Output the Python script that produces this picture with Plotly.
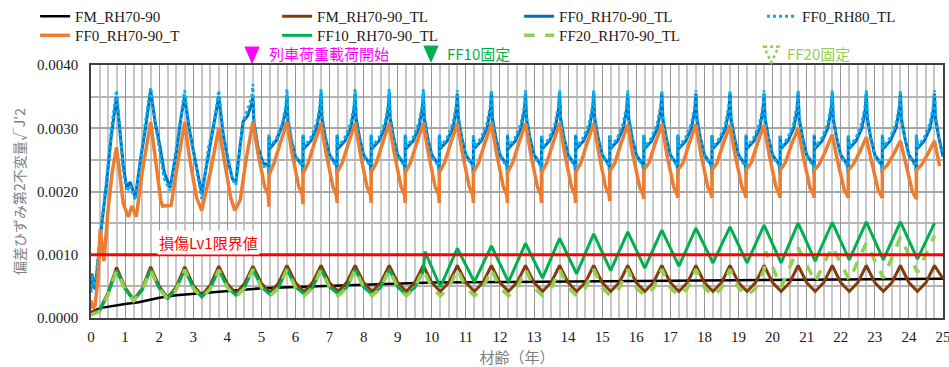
import plotly.graph_objects as go

# ---------------- data ----------------
age_q = [0, 0.25, 0.5, 0.75, 1, 1.25, 1.5, 1.75, 2, 2.25, 2.5, 2.75, 3, 3.25, 3.5, 3.75,
         4, 4.25, 4.5, 4.75, 5, 5.25, 5.5, 5.75, 6, 6.25, 6.5, 6.75, 7, 7.25, 7.5, 7.75,
         8, 8.25, 8.5, 8.75, 9, 9.25, 9.5, 9.75, 10, 10.25, 10.5, 10.75, 11, 11.25, 11.5, 11.75,
         12, 12.25, 12.5, 12.75, 13, 13.25, 13.5, 13.75, 14, 14.25, 14.5, 14.75, 15, 15.25, 15.5, 15.75,
         16, 16.25, 16.5, 16.75, 17, 17.25, 17.5, 17.75, 18, 18.25, 18.5, 18.75, 19, 19.25, 19.5, 19.75,
         20, 20.25, 20.5, 20.75, 21, 21.25, 21.5, 21.75, 22, 22.25, 22.5, 22.75, 23, 23.25, 23.5, 23.75,
         24, 24.25, 24.5, 24.75, 25]

# FM_RH70-90 (black)
fm_x = [0, 0.1, 0.3, 0.6, 1.0, 1.4, 2.0, 2.5, 3.0, 4.0, 5.0, 6.0, 7.0, 8.0, 9.0, 10, 12, 14, 16, 18, 20, 22, 25]
fm_y = [0.00008, 0.00012, 0.00016, 0.00019, 0.00022, 0.00025, 0.00032, 0.00036, 0.00038, 0.00043,
        0.00047, 0.00049, 0.00051, 0.00053, 0.00055, 0.00056, 0.00057, 0.00058, 0.00059, 0.00060,
        0.00060, 0.00061, 0.00062]

# FM_RH70-90_TL (brown) on quarter-year grid, one row per year
fm_tl_rows = [
    [0.00010, 0.00012, 0.00040, 0.00080],
    [0.00048, 0.00029, 0.00046, 0.00081],
    [0.00050, 0.00032, 0.00049, 0.00081],
    [0.00052, 0.00036, 0.00052, 0.00082],
    [0.00054, 0.00039, 0.00054, 0.00082],
    [0.00055, 0.00040, 0.00055, 0.00083],
    [0.00056, 0.00041, 0.00056, 0.00083],
    [0.00056, 0.00042, 0.00056, 0.00083],
    [0.00056, 0.00042, 0.00056, 0.00083],
    [0.00056, 0.00042, 0.00056, 0.00083],
    [0.00056, 0.00042, 0.00056, 0.00083],
    [0.00056, 0.00042, 0.00056, 0.00083],
    [0.00056, 0.00042, 0.00056, 0.00083],
    [0.00056, 0.00042, 0.00056, 0.00083],
    [0.00056, 0.00042, 0.00056, 0.00083],
    [0.00056, 0.00042, 0.00056, 0.00083],
    [0.00056, 0.00042, 0.00056, 0.00083],
    [0.00056, 0.00042, 0.00056, 0.00083],
    [0.00056, 0.00042, 0.00056, 0.00083],
    [0.00056, 0.00042, 0.00056, 0.00083],
    [0.00056, 0.00042, 0.00056, 0.00083],
    [0.00056, 0.00042, 0.00056, 0.00083],
    [0.00056, 0.00042, 0.00056, 0.00083],
    [0.00056, 0.00042, 0.00056, 0.00083],
    [0.00056, 0.00042, 0.00056, 0.00083],
]
fm_tl_end = [0.00062]

# FF0_RH70-90_TL (blue) and FF0_RH80_TL (dotted light blue)
ff0_early_x = [0, 0.03, 0.12, 0.2, 0.3, 0.45, 0.6, 0.75, 0.85, 0.95, 1.05, 1.15, 1.3, 1.45, 1.6, 1.75,
               1.88, 2.03, 2.15, 2.32, 2.5, 2.65, 2.75, 2.88, 3.02, 3.15, 3.25, 3.45, 3.62, 3.75,
               3.88, 4.02, 4.15, 4.25, 4.35, 4.46, 4.6, 4.72, 4.75, 4.78, 4.9, 5.05]
ff0_tl_early_y = [0.00045, 0.0007, 0.00045, 0.0009, 0.0014, 0.0021, 0.0029, 0.0035, 0.0029, 0.0024,
                  0.00205, 0.00215, 0.0019, 0.0025, 0.003, 0.0036, 0.0031, 0.0027, 0.0023, 0.00206,
                  0.0026, 0.0032, 0.0035, 0.003, 0.0026, 0.0022, 0.00196, 0.0026, 0.0031, 0.0035,
                  0.0029, 0.0025, 0.0022, 0.00215, 0.0026, 0.0031, 0.0032, 0.0034, 0.0035, 0.0031,
                  0.0027, 0.00245]
ff0_rh80_early_y = [0.0004, 0.00068, 0.0005, 0.00095, 0.00145, 0.00215, 0.003, 0.0036, 0.0029, 0.0023,
                    0.002, 0.0021, 0.00186, 0.0025, 0.0031, 0.00365, 0.0031, 0.0026, 0.0022, 0.00202,
                    0.0027, 0.0032, 0.0036, 0.003, 0.0026, 0.0022, 0.00188, 0.0027, 0.0031, 0.0036,
                    0.0029, 0.0025, 0.0022, 0.0021, 0.0026, 0.0031, 0.0033, 0.0035, 0.0037, 0.0031,
                    0.0027, 0.0024]
cycle_years = [5, 6, 7, 8, 9, 10, 11, 12, 13, 14, 15, 16, 17, 18, 19, 20, 21, 22, 23, 24]
ff0_tl_offsets = [0.20, 0.22, 0.22, 0.25, 0.45, 0.62, 0.72, 0.75, 0.78, 0.88, 1.0]
ff0_tl_rows = [
    [0.00242, 0.00229, 0.00286, 0.00268, 0.00282, 0.00305, 0.00330, 0.00352, 0.00312, 0.00280, 0.00255],
    [0.00242, 0.00229, 0.00288, 0.00268, 0.00280, 0.00300, 0.00330, 0.00355, 0.00315, 0.00285, 0.00258],
    [0.00242, 0.00229, 0.00288, 0.00268, 0.00280, 0.00300, 0.00330, 0.00355, 0.00315, 0.00285, 0.00258],
    [0.00242, 0.00229, 0.00288, 0.00268, 0.00280, 0.00300, 0.00330, 0.00355, 0.00315, 0.00285, 0.00258],
    [0.00242, 0.00229, 0.00288, 0.00268, 0.00280, 0.00300, 0.00330, 0.00355, 0.00315, 0.00285, 0.00258],
    [0.00242, 0.00229, 0.00288, 0.00268, 0.00280, 0.00300, 0.00330, 0.00355, 0.00315, 0.00285, 0.00258],
    [0.00242, 0.00229, 0.00288, 0.00268, 0.00280, 0.00300, 0.00330, 0.00355, 0.00315, 0.00285, 0.00258],
    [0.00242, 0.00229, 0.00288, 0.00268, 0.00280, 0.00300, 0.00330, 0.00355, 0.00315, 0.00285, 0.00258],
    [0.00242, 0.00229, 0.00288, 0.00268, 0.00280, 0.00300, 0.00330, 0.00355, 0.00315, 0.00285, 0.00258],
    [0.00242, 0.00229, 0.00288, 0.00268, 0.00280, 0.00300, 0.00330, 0.00355, 0.00315, 0.00285, 0.00258],
    [0.00242, 0.00229, 0.00288, 0.00268, 0.00280, 0.00300, 0.00330, 0.00355, 0.00315, 0.00285, 0.00258],
    [0.00242, 0.00229, 0.00288, 0.00268, 0.00280, 0.00300, 0.00330, 0.00355, 0.00315, 0.00285, 0.00258],
    [0.00242, 0.00229, 0.00288, 0.00268, 0.00280, 0.00300, 0.00330, 0.00355, 0.00315, 0.00285, 0.00258],
    [0.00242, 0.00229, 0.00288, 0.00268, 0.00280, 0.00300, 0.00330, 0.00355, 0.00315, 0.00285, 0.00258],
    [0.00242, 0.00229, 0.00288, 0.00268, 0.00280, 0.00300, 0.00330, 0.00355, 0.00315, 0.00285, 0.00258],
    [0.00242, 0.00229, 0.00288, 0.00268, 0.00280, 0.00300, 0.00330, 0.00355, 0.00315, 0.00285, 0.00258],
    [0.00242, 0.00229, 0.00288, 0.00268, 0.00280, 0.00300, 0.00330, 0.00355, 0.00315, 0.00285, 0.00258],
    [0.00242, 0.00229, 0.00288, 0.00268, 0.00280, 0.00300, 0.00330, 0.00355, 0.00315, 0.00285, 0.00258],
    [0.00242, 0.00229, 0.00288, 0.00268, 0.00280, 0.00300, 0.00330, 0.00355, 0.00315, 0.00285, 0.00258],
    [0.00242, 0.00229, 0.00288, 0.00268, 0.00280, 0.00300, 0.00330, 0.00355, 0.00315, 0.00285, 0.00255],
]
ff0_rh80_rows = [
    [0.00240, 0.00226, 0.00290, 0.00270, 0.00285, 0.00308, 0.00336, 0.00362, 0.00318, 0.00284, 0.00256],
    [0.00240, 0.00226, 0.00290, 0.00270, 0.00285, 0.00308, 0.00336, 0.00362, 0.00318, 0.00284, 0.00256],
    [0.00240, 0.00226, 0.00290, 0.00270, 0.00285, 0.00308, 0.00336, 0.00362, 0.00318, 0.00284, 0.00256],
    [0.00240, 0.00226, 0.00290, 0.00270, 0.00285, 0.00308, 0.00336, 0.00362, 0.00318, 0.00284, 0.00256],
    [0.00240, 0.00226, 0.00290, 0.00270, 0.00285, 0.00308, 0.00336, 0.00362, 0.00318, 0.00284, 0.00256],
    [0.00240, 0.00226, 0.00290, 0.00270, 0.00285, 0.00308, 0.00336, 0.00360, 0.00318, 0.00284, 0.00256],
    [0.00240, 0.00226, 0.00290, 0.00270, 0.00285, 0.00308, 0.00336, 0.00360, 0.00318, 0.00284, 0.00256],
    [0.00240, 0.00226, 0.00290, 0.00270, 0.00285, 0.00308, 0.00336, 0.00360, 0.00318, 0.00284, 0.00256],
    [0.00240, 0.00226, 0.00290, 0.00270, 0.00285, 0.00308, 0.00336, 0.00360, 0.00318, 0.00284, 0.00256],
    [0.00240, 0.00226, 0.00290, 0.00270, 0.00285, 0.00308, 0.00336, 0.00360, 0.00318, 0.00284, 0.00256],
    [0.00240, 0.00226, 0.00290, 0.00270, 0.00285, 0.00308, 0.00336, 0.00360, 0.00318, 0.00284, 0.00256],
    [0.00240, 0.00226, 0.00290, 0.00270, 0.00285, 0.00308, 0.00336, 0.00360, 0.00318, 0.00284, 0.00256],
    [0.00240, 0.00226, 0.00290, 0.00270, 0.00285, 0.00308, 0.00336, 0.00360, 0.00318, 0.00284, 0.00256],
    [0.00240, 0.00226, 0.00290, 0.00270, 0.00285, 0.00308, 0.00336, 0.00360, 0.00318, 0.00284, 0.00256],
    [0.00240, 0.00226, 0.00290, 0.00270, 0.00285, 0.00308, 0.00336, 0.00360, 0.00318, 0.00284, 0.00256],
    [0.00240, 0.00226, 0.00290, 0.00270, 0.00285, 0.00308, 0.00336, 0.00360, 0.00318, 0.00284, 0.00256],
    [0.00240, 0.00226, 0.00290, 0.00270, 0.00285, 0.00308, 0.00336, 0.00360, 0.00318, 0.00284, 0.00256],
    [0.00240, 0.00226, 0.00290, 0.00270, 0.00285, 0.00308, 0.00336, 0.00360, 0.00318, 0.00284, 0.00256],
    [0.00240, 0.00226, 0.00290, 0.00270, 0.00285, 0.00308, 0.00336, 0.00360, 0.00318, 0.00284, 0.00256],
    [0.00240, 0.00226, 0.00290, 0.00270, 0.00285, 0.00308, 0.00336, 0.00360, 0.00318, 0.00284, 0.00256],
]

# FF0_RH70-90_T (orange)
ff0_t_early_x = [0, 0.05, 0.12, 0.2, 0.27, 0.32, 0.38, 0.5, 0.62, 0.75, 0.85, 0.95, 1.1, 1.2, 1.33,
                 1.5, 1.75, 1.9, 2.05, 2.1, 2.35, 2.5, 2.75, 2.9, 3.1, 3.25, 3.5, 3.75, 3.9, 4.1,
                 4.22, 4.38, 4.55, 4.75, 4.9, 5.1]
ff0_t_early_y = [0.00028, 0.00015, 0.0002, 0.0006, 0.0014, 0.0012, 0.0009, 0.0017, 0.0023, 0.0027,
                 0.0022, 0.0018, 0.0016, 0.00177, 0.0016, 0.0023, 0.0031, 0.0025, 0.00185, 0.00177,
                 0.00178, 0.0023, 0.0031, 0.0025, 0.0019, 0.0017, 0.0023, 0.003, 0.0025, 0.0019,
                 0.0017, 0.00187, 0.0025, 0.0031, 0.0026, 0.00207]
ff0_t_offsets = [0.20, 0.22, 0.22, 0.37, 0.56, 0.75, 0.90, 1.10]
ff0_t_rows = [
    [0.00195, 0.00176, 0.00225, 0.00245, 0.00277, 0.00310, 0.00260, 0.00207],
    [0.00195, 0.00180, 0.00228, 0.00245, 0.00277, 0.00308, 0.00260, 0.00207],
    [0.00195, 0.00182, 0.00230, 0.00245, 0.00277, 0.00308, 0.00260, 0.00207],
    [0.00195, 0.00182, 0.00230, 0.00245, 0.00277, 0.00308, 0.00260, 0.00207],
    [0.00195, 0.00182, 0.00230, 0.00245, 0.00277, 0.00308, 0.00260, 0.00207],
    [0.00195, 0.00182, 0.00230, 0.00245, 0.00277, 0.00308, 0.00260, 0.00207],
    [0.00195, 0.00182, 0.00230, 0.00245, 0.00277, 0.00308, 0.00260, 0.00207],
    [0.00195, 0.00182, 0.00230, 0.00245, 0.00277, 0.00308, 0.00260, 0.00207],
    [0.00195, 0.00182, 0.00230, 0.00245, 0.00277, 0.00308, 0.00260, 0.00207],
    [0.00195, 0.00182, 0.00230, 0.00245, 0.00277, 0.00308, 0.00260, 0.00207],
    [0.00195, 0.00185, 0.00232, 0.00245, 0.00277, 0.00306, 0.00258, 0.00207],
    [0.00195, 0.00188, 0.00234, 0.00245, 0.00277, 0.00306, 0.00258, 0.00207],
    [0.00195, 0.00190, 0.00234, 0.00245, 0.00277, 0.00306, 0.00258, 0.00207],
    [0.00195, 0.00190, 0.00234, 0.00245, 0.00277, 0.00305, 0.00258, 0.00207],
    [0.00195, 0.00190, 0.00234, 0.00245, 0.00277, 0.00305, 0.00258, 0.00207],
    [0.00195, 0.00190, 0.00234, 0.00245, 0.00275, 0.00300, 0.00255, 0.00205],
    [0.00195, 0.00190, 0.00234, 0.00243, 0.00265, 0.00290, 0.00250, 0.00203],
    [0.00193, 0.00190, 0.00234, 0.00243, 0.00263, 0.00286, 0.00248, 0.00202],
    [0.00192, 0.00190, 0.00234, 0.00242, 0.00260, 0.00280, 0.00246, 0.00200],
    [0.00190, 0.00190, 0.00234, 0.00242, 0.00260, 0.00280, 0.00240],
]

# FF10_RH70-90_TL (green): quarter grid until 9.75, then zigzag
ff10_early_rows = [
    [0.00006, 0.00011, 0.00038, 0.00075],
    [0.00046, 0.00028, 0.00044, 0.00076],
    [0.00047, 0.00031, 0.00046, 0.00076],
    [0.00048, 0.00033, 0.00047, 0.00076],
    [0.00049, 0.00036, 0.00048, 0.00077],
    [0.00049, 0.00037, 0.00048, 0.00077],
    [0.00049, 0.00038, 0.00048, 0.00077],
    [0.00049, 0.00038, 0.00048, 0.00077],
    [0.00049, 0.00037, 0.00048, 0.00077],
    [0.00049, 0.00037, 0.00048, 0.00074],
]
ff10_late_x = [9.8, 10.25, 10.75, 11.25, 11.75, 12.25, 12.75, 13.25, 13.75, 14.25, 14.75, 15.25, 15.75,
               16.25, 16.75, 17.25, 17.75, 18.25, 18.75, 19.25, 19.75, 20.25, 20.75, 21.25, 21.75,
               22.25, 22.75, 23.25, 23.75, 24.25, 24.75]
ff10_late_y = [0.00105, 0.00049, 0.00110, 0.00057, 0.00114, 0.00057, 0.00118, 0.00063, 0.00126, 0.00070,
               0.00133, 0.00075, 0.00136, 0.00079, 0.00139, 0.00082, 0.00142, 0.00087, 0.00144, 0.00087,
               0.00147, 0.00087, 0.00150, 0.00090, 0.00151, 0.00092, 0.00152, 0.00092, 0.00152, 0.00093,
               0.00150]

# FF20_RH70-90_TL (light green dashed): quarter grid until 19.75, then zigzag
ff20_early_rows = [
    [0.00005, 0.00010, 0.00037, 0.00075],
    [0.00045, 0.00027, 0.00043, 0.00076],
    [0.00046, 0.00030, 0.00045, 0.00076],
    [0.00047, 0.00032, 0.00046, 0.00076],
    [0.00048, 0.00033, 0.00047, 0.00077],
    [0.00048, 0.00035, 0.00047, 0.00077],
    [0.00048, 0.00035, 0.00047, 0.00077],
    [0.00048, 0.00035, 0.00047, 0.00077],
    [0.00048, 0.00035, 0.00047, 0.00077],
    [0.00048, 0.00035, 0.00047, 0.00077],
    [0.00048, 0.00035, 0.00047, 0.00077],
    [0.00048, 0.00035, 0.00047, 0.00077],
    [0.00048, 0.00035, 0.00047, 0.00077],
    [0.00048, 0.00035, 0.00047, 0.00077],
    [0.00048, 0.00035, 0.00047, 0.00077],
    [0.00048, 0.00035, 0.00047, 0.00077],
    [0.00048, 0.00035, 0.00047, 0.00077],
    [0.00048, 0.00035, 0.00047, 0.00077],
    [0.00048, 0.00035, 0.00047, 0.00077],
    [0.00048, 0.00035, 0.00047, 0.00076],
]
ff20_late_x = [19.8, 20.25, 20.75, 21.25, 21.75, 22.25, 22.75, 23.25, 23.75, 24.25, 24.75]
ff20_late_y = [0.00105, 0.00049, 0.00111, 0.00057, 0.00113, 0.00060, 0.00119, 0.00063, 0.00128, 0.00072, 0.00130]

limit_x = [0, 25]
limit_y = [0.001, 0.001]

# ---------------- assemble tables ----------------
def flat(rows):
    return [v for r in rows for v in r]

fm_tl_y = flat(fm_tl_rows) + fm_tl_end

def cyc(early_x, early_y, offsets, rows):
    xs, ys = list(early_x), list(early_y)
    for yr, row in zip(cycle_years, rows):
        for off, v in zip(offsets, row):
            xs.append(yr + off)
            ys.append(v)
    return xs, ys

ff0_tl_x, ff0_tl_y = cyc(ff0_early_x, ff0_tl_early_y, ff0_tl_offsets, ff0_tl_rows)
ff0_rh80_x, ff0_rh80_y = cyc(ff0_early_x, ff0_rh80_early_y, ff0_tl_offsets, ff0_rh80_rows)
ff0_t_x, ff0_t_y = cyc(ff0_t_early_x, ff0_t_early_y, ff0_t_offsets, ff0_t_rows)
ff10_e = flat(ff10_early_rows)
ff10_x = age_q[:len(ff10_e)] + ff10_late_x
ff10_y = ff10_e + ff10_late_y
ff20_e = flat(ff20_early_rows)
ff20_x = age_q[:len(ff20_e)] + ff20_late_x
ff20_y = ff20_e + ff20_late_y

# ---------------- figure ----------------
fig = go.Figure()
traces = [
    ("FM_RH70-90", fm_x, fm_y, "#000000", 2.5, "solid", "legend"),
    ("FM_RH70-90_TL", age_q, fm_tl_y, "#843C0C", 3, "solid", "legend"),
    ("FF0_RH70-90_TL", ff0_tl_x, ff0_tl_y, "#0070C0", 3, "solid", "legend"),
    ("FF0_RH80_TL", ff0_rh80_x, ff0_rh80_y, "#00B0F0", 3, "dot", "legend3"),
    ("FF0_RH70-90_T", ff0_t_x, ff0_t_y, "#ED7D31", 3.5, "solid", "legend2"),
    ("FF10_RH70-90_TL", ff10_x, ff10_y, "#00B050", 3, "solid", "legend2"),
    ("FF20_RH70-90_TL", ff20_x, ff20_y, "#92D050", 3.5, "dash", "legend2"),
]
for name, xs, ys, col, w, dash, lg in traces:
    fig.add_trace(go.Scatter(x=xs, y=ys, name=name, mode="lines", legend=lg,
                             line=dict(color=col, width=w, dash=dash)))
fig.add_trace(go.Scatter(x=limit_x, y=limit_y, mode="lines", showlegend=False,
                         line=dict(color="#FF0000", width=3)))

serif = "Liberation Serif"
jp = "Noto Sans CJK JP"

def leg(x, y):
    return dict(orientation="h", xref="container", yref="container",
                x=x, y=y, xanchor="left", yanchor="top",
                entrywidth=197, entrywidthmode="pixels",
                font=dict(family=serif, size=15, color="#1a1a1a"),
                bgcolor="rgba(0,0,0,0)", tracegroupgap=0)

fig.update_layout(
    width=949, height=367,
    margin=dict(l=91, r=6, t=65, b=49, autoexpand=False),
    plot_bgcolor="white", paper_bgcolor="white",
    showlegend=True,
    legend=leg(0.037, 1.0),
    legend2=leg(0.037, 0.948),
    legend3=leg(0.803, 1.0),
    xaxis=dict(range=[0, 25], tick0=0, dtick=1, showgrid=True, gridcolor="#969696", gridwidth=1.2,
               minor=dict(dtick=0.25, showgrid=True, gridcolor="#C8C8C8", gridwidth=1.5),
               showline=True, linecolor="#404040", linewidth=1.5, mirror=True, zeroline=False,
               ticks="", ticklabelstandoff=4, ticklabeloverflow="allow",
               tickfont=dict(family=serif, size=15, color="#1a1a1a"),
               title=dict(text="材齢（年）", font=dict(family=jp, size=15, color="#7f7f7f"), standoff=10)),
    yaxis=dict(range=[0, 0.004], tick0=0, dtick=0.001, tickformat=".4f", showgrid=True,
               gridcolor="#A6A6A6", gridwidth=1.5,
               minor=dict(dtick=0.0005, showgrid=True, gridcolor="#B4B4B4", gridwidth=1.5),
               showline=True, linecolor="#404040", linewidth=1.5, mirror=True, zeroline=False,
               ticks="", ticklabelstandoff=8, tickfont=dict(family=serif, size=15, color="#1a1a1a"),
               title=dict(text="偏差ひずみ第2不変量√J'2", font=dict(family=jp, size=14, color="#7f7f7f"),
                          standoff=8)),
)

# annotations
fig.add_annotation(x=3.45, y=0.00119, xref="x", yref="y", text="損傷Lv1限界値", showarrow=False,
                   font=dict(family=jp, size=15, color="#FF0000"), bgcolor="white")
fig.add_annotation(x=5.16, y=1.047, xref="x", yref="paper", text="列車荷重載荷開始", showarrow=False,
                   xanchor="left", yanchor="middle", font=dict(family=jp, size=15, color="#FF00FF"))
fig.add_annotation(x=10.39, y=1.047, xref="x", yref="paper", text="FF10固定", showarrow=False,
                   xanchor="left", yanchor="middle", font=dict(family=jp, size=15, color="#00B050"))
fig.add_annotation(x=20.36, y=1.047, xref="x", yref="paper", text="FF20固定", showarrow=False,
                   xanchor="left", yanchor="middle", font=dict(family=jp, size=15, color="#92D050"))

def tri(xc, top, bot, half):
    return f"M {xc-half},{top} L {xc+half},{top} L {xc},{bot} Z"

fig.add_shape(type="path", xref="paper", yref="paper", path=tri(0.189, 1.071, 1.008, 0.0082),
              fillcolor="#FF00FF", line=dict(color="#FF00FF", width=1))
fig.add_shape(type="path", xref="paper", yref="paper", path=tri(0.399, 1.075, 1.012, 0.0082),
              fillcolor="#00B050", line=dict(color="#00B050", width=1))
fig.add_shape(type="path", xref="paper", yref="paper", path=tri(0.7985, 1.072, 1.01, 0.0085),
              fillcolor="rgba(0,0,0,0)", line=dict(color="#92D050", width=2.5, dash="dot"))

fig.write_html("out.html", config={"displayModeBar": False})
